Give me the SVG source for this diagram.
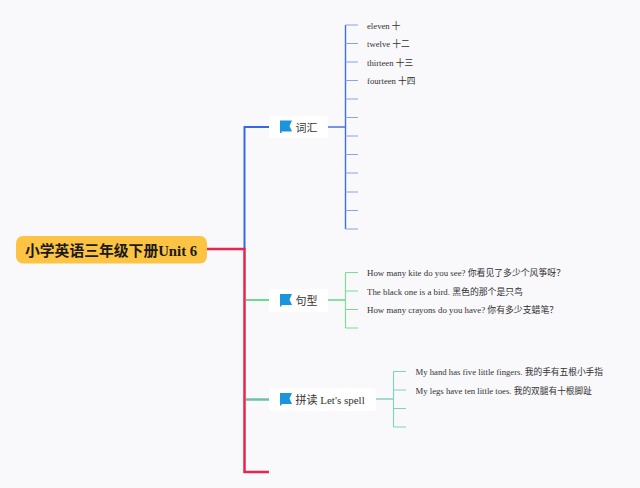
<svg xmlns="http://www.w3.org/2000/svg" width="640" height="488" viewBox="0 0 640 488">
<style>
text{font-family:"Liberation Serif","Noto Sans CJK SC",serif;fill:#333}
.leaf{font-size:8.7px}
.wide{font-size:8.85px}
.topic{font-size:11px}
.plate{fill:#fff}
.flag{fill:#1a94dc}
.c{fill:none}
.blue1{stroke:#86a4f4;stroke-width:1.2}
.blue2{stroke:#3e6fe6;stroke-width:1.4}
.green{stroke:#74e092;stroke-width:1.1}
.teal{stroke:#7cd4bc;stroke-width:1.1}
</style>
<rect width="640" height="488" fill="#f9f8fb"/>
<g id="connectors">
<path class="c" d="M244.500 249V127H269" stroke="#3468e8" stroke-width="2"/>
<path class="c" d="M207 249H244.500V472H269" stroke="#e8254e" stroke-width="2.500"/>
<path class="c" d="M246 300H269" stroke="#3fd069" stroke-width="1.500"/>
<path class="c" d="M246 399.500H269" stroke="#6cc0aa" stroke-width="2.500"/>
<path class="c" d="M328 127H345.500" stroke="#4474e6" stroke-width="1.500"/>
<path class="c blue2" d="M345.500 25V229"/>
<path class="c blue1" d="M345.500 25H358M345.500 43.500H358M345.500 62H358M345.500 80.500H358M345.500 99H358M345.500 117.500H358M345.500 136H358M345.500 154.500H358M345.500 173H358M345.500 192H358M345.500 210.500H358M345.500 229H358"/>
<path class="c" d="M328 300H345.500" stroke="#3fd069" stroke-width="1.200"/>
<path class="c green" d="M345.500 272.500V328M345.500 272.500H358M345.500 291H358M345.500 309.500H358M345.500 328H358"/>
<path class="c" d="M376 399H393.500" stroke="#6cc9b0" stroke-width="1.200"/>
<path class="c teal" d="M393.500 371.500V427M393.500 371.500H406M393.500 390H406M393.500 408.500H406M393.500 427H406"/>
</g>
<g id="root">
<rect x="16" y="236" width="191" height="27.500" rx="7" fill="#fdc444"/>
<text x="25" y="256" font-size="14.800" font-weight="700" style="fill:#1a1a1a">小学英语三年级下册Unit 6</text>
</g>
<g id="topic-vocab">
<rect class="plate" x="269" y="116" width="59" height="22" rx="2"/>
<path class="flag" d="M280 120.500H292L289.500 126L292 131.500H281.500V133H280Z"/>
<text class="topic" x="295.500" y="131.500">词汇</text>
</g>
<g id="topic-sentence">
<rect class="plate" x="269" y="289" width="59" height="23" rx="2"/>
<path class="flag" d="M280 294H292L289.500 299.500L292 305H281.500V306.500H280Z"/>
<text class="topic" x="295.500" y="304.500">句型</text>
</g>
<g id="topic-spell">
<rect class="plate" x="269" y="388" width="107" height="23" rx="2"/>
<path class="flag" d="M280 393H292L289.500 398.500L292 404H281.500V405.500H280Z"/>
<text class="topic" x="295.500" y="404">拼读 Let's spell</text>
</g>
<g id="leaf-vocab">
<text class="leaf" x="367" y="28.500">eleven 十</text>
<text class="leaf" x="367" y="47">twelve 十二</text>
<text class="leaf" x="367" y="65.500">thirteen 十三</text>
<text class="leaf" x="367" y="84">fourteen 十四</text>
</g>
<g id="leaf-sentence">
<text class="wide" x="367" y="276">How many kite do you see? 你看见了多少个风筝呀？</text>
<text class="wide" x="367" y="294.500">The black one is a bird. 黑色的那个是只鸟</text>
<text class="wide" x="367" y="313">How many crayons do you have? 你有多少支蜡笔？</text>
</g>
<g id="leaf-spell">
<text class="leaf" x="415.500" y="375">My hand has five little fingers. 我的手有五根小手指</text>
<text class="leaf" x="415.500" y="393.500">My legs have ten little toes. 我的双腿有十根脚趾</text>
</g>
</svg>
